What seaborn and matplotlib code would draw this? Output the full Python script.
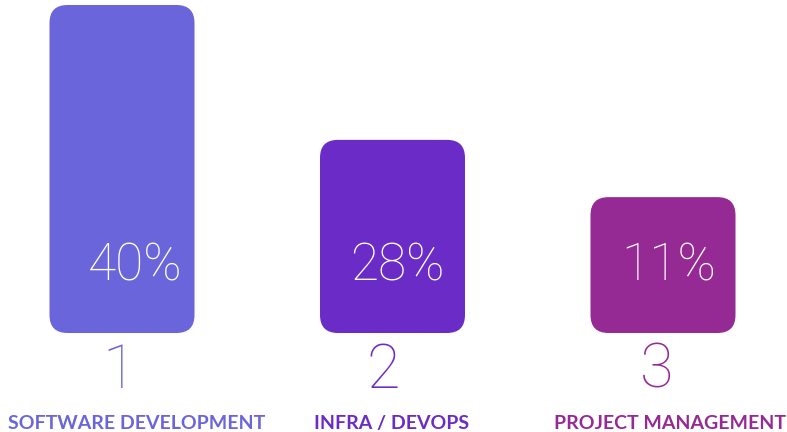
import matplotlib
matplotlib.use("Agg")
import matplotlib.pyplot as plt
import seaborn as sns
import pandas as pd
from matplotlib.patches import FancyBboxPatch

# ---- data ----
categories = ["SOFTWARE DEVELOPMENT", "INFRA / DEVOPS", "PROJECT MANAGEMENT"]
ranks = ["1", "2", "3"]
percent_labels = ["40%", "28%", "11%"]
bar_heights = [98.5, 58.0, 40.8]   # drawn bar heights (axis units 0-100)
colors = ["#6B65DC", "#6A2BC6", "#962A94"]

df = pd.DataFrame({"category": categories, "height": bar_heights})

sns.set_theme(style="white")
plt.rcParams["font.family"] = ["Lato", "DejaVu Sans"]

fig = plt.figure(figsize=(7.87, 4.32), dpi=100)
W, H = 787, 432
ax_bottom_px = 333
ax = fig.add_axes([0, (H - ax_bottom_px) / H, 1, ax_bottom_px / H])

px_per_unit = 270.5
x0_px = 122

sns.barplot(data=df, x="category", y="height", hue="category",
            palette=colors, saturation=1, width=145 / px_per_unit,
            legend=False, ax=ax)
ax.set_xlim(-x0_px / px_per_unit, (W - x0_px) / px_per_unit)
ax.set_ylim(0, 100)

# replace rectangles by rounded boxes
r_px = 18
rx = r_px / px_per_unit
ry = r_px / (ax_bottom_px / 100)
for patch in list(ax.patches):
    x, y = patch.get_x(), patch.get_y()
    w, h = patch.get_width(), patch.get_height()
    fc = patch.get_facecolor()
    patch.remove()
    box = FancyBboxPatch((x, y), w, h,
                         boxstyle=f"round,pad=0,rounding_size={rx}",
                         mutation_aspect=ry / rx,
                         facecolor=fc, edgecolor="none", zorder=2)
    ax.add_patch(box)

# layout nudges (pixels) for text relative to each bar centre
pct_dx = [13, 5, 6]
rank_dx = [-3, -9, -6]
cat_dx = [15, -1, 7]
pt = 72 / 100  # points per pixel

light = ["Roboto", "DejaVu Sans"]
for i, (pct, rk, cat, col) in enumerate(zip(percent_labels, ranks, categories, colors)):
    ax.annotate(pct, xy=(i, 20.1), xytext=(pct_dx[i] * pt, 0), textcoords="offset points",
                ha="center", va="center", color="white",
                fontsize=37, fontweight="light", family=light, zorder=3)
    ax.annotate(rk, xy=(i, 0), xytext=(rank_dx[i] * pt, -27), textcoords="offset points",
                ha="center", va="center", color=col, fontsize=44,
                fontweight="light", family=light, annotation_clip=False)
    ax.annotate(cat, xy=(i, 0), xytext=(cat_dx[i] * pt, -65), textcoords="offset points",
                ha="center", va="center", color=col, fontsize=14,
                fontweight="bold", annotation_clip=False)

ax.set_axis_off()
fig.savefig("out.png", dpi=100, facecolor="white")
